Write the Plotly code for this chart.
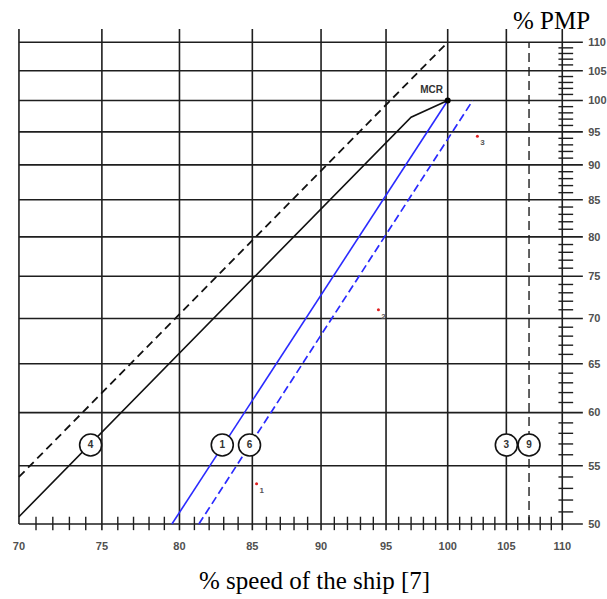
import numpy as np
import plotly.graph_objects as go

# ---------------- data ----------------
speed_ticks = [70, 75, 80, 85, 90, 95, 100, 105, 110]
power_ticks = [50, 55, 60, 65, 70, 75, 80, 85, 90, 95, 100, 105, 110]

engine_x = [70, 97, 100]          # black solid curve
engine_y = [50.6, 97.3, 100]
limit_x = [70, 100]               # black dashed curve
limit_y = [54.0, 110]
prop_x = [79.5, 100]              # blue solid propeller curve
prop_y = [50, 100]
prop_margin_x = [81.3, 102.1]     # blue dashed propeller curve
prop_margin_y = [50, 100]
max_speed_line = 107              # vertical dashed line

mcr_x, mcr_y = [100], [100]

circle_labels = ["4", "1", "6", "3", "9"]
circle_x = [74.3, 82.9, 84.8, 105, 107]
circle_y = [56.9, 56.9, 56.9, 56.9, 56.9]

point_labels = ["1", "2", "3"]
point_x = [85.3, 94.4, 102.5]
point_y = [53.4, 71.0, 94.3]

# ---------------- geometry helpers ----------------
X_MIN, X_MAX = 69.77, 112.1
Y_MIN, Y_MAX = 49.35, 112.6
Y_GRID_TOP = 112.4      # vertical grid lines extend above 110
X_GRID_RIGHT = 111.9    # horizontal grid lines extend past 110
Y_TICK_LO, Y_TICK_HI = 49.5, 50.6
X_TICK_LO, X_TICK_HI = 109.65, 111.0

GRID = "#1e1e1e"
BLUE = "#2a2aff"
LBL = "#505050"

fig = go.Figure()

def seg_trace(xs, ys, color, width, dash="solid"):
    fig.add_trace(go.Scatter(x=xs, y=ys, mode="lines",
                             line=dict(color=color, width=width, dash=dash),
                             hoverinfo="skip", showlegend=False))

# vertical grid lines
vx, vy = [], []
for s in speed_ticks:
    vx += [s, s, None]
    vy += [Y_TICK_LO if s > speed_ticks[0] else power_ticks[0], Y_GRID_TOP, None]
seg_trace(vx, vy, GRID, 1.6)

# horizontal grid lines
hx, hy = [], []
for p in power_ticks:
    hx += [speed_ticks[0], X_GRID_RIGHT, None]
    hy += [p, p, None]
seg_trace(hx, hy, GRID, 1.6)

# minor ticks on bottom axis
mx, my = [], []
for s in range(speed_ticks[0] + 1, speed_ticks[-1]):
    if s % 5:
        mx += [s, s, None]
        my += [Y_TICK_LO, Y_TICK_HI, None]
seg_trace(mx, my, GRID, 1.4)

# minor ticks on right axis
rx, ry = [], []
for p in range(power_ticks[0] + 1, power_ticks[-1]):
    if p % 5:
        rx += [X_TICK_LO, X_TICK_HI, None]
        ry += [p, p, None]
seg_trace(rx, ry, GRID, 1.4)

# dashed vertical line at max speed
seg_trace([max_speed_line, max_speed_line], [power_ticks[0], power_ticks[-1]], GRID, 1.4, "9px,5px")

# curves
seg_trace(limit_x, limit_y, "#111111", 1.8, "8px,5px")
seg_trace(engine_x, engine_y, "#111111", 1.6)
seg_trace(prop_x, prop_y, BLUE, 1.6)
seg_trace(prop_margin_x, prop_margin_y, BLUE, 1.7, "8px,4px")

# MCR point
fig.add_trace(go.Scatter(x=mcr_x, y=mcr_y, mode="markers+text", text=["MCR"],
                         textposition="top left",
                         textfont=dict(family="Liberation Sans", size=10, color="#333", weight="bold"),
                         marker=dict(color="#000", size=6),
                         hoverinfo="skip", showlegend=False))

# numbered circles
fig.add_trace(go.Scatter(x=circle_x, y=circle_y, mode="markers+text", text=circle_labels,
                         textposition="middle center",
                         textfont=dict(family="Liberation Sans", size=10, color="#333", weight="bold"),
                         marker=dict(symbol="circle", size=22, color="white",
                                     line=dict(color="#111", width=1.6)),
                         hoverinfo="skip", showlegend=False))

# red measured points
fig.add_trace(go.Scatter(x=point_x, y=point_y, mode="markers+text", text=point_labels,
                         textposition="bottom right",
                         textfont=dict(family="Liberation Sans", size=8, color="#555", weight="bold"),
                         marker=dict(color="#e02020", size=3),
                         hoverinfo="skip", showlegend=False))

fig.update_layout(
    width=607, height=599,
    template="none",
    paper_bgcolor="white", plot_bgcolor="white",
    margin=dict(l=15, r=22, t=28, b=67),
    xaxis=dict(type="log", range=[np.log10(X_MIN), np.log10(X_MAX)],
               tickvals=speed_ticks, ticktext=[str(s) for s in speed_ticks],
               showgrid=False, zeroline=False, showline=False,
               ticks="outside", ticklen=4, tickcolor="rgba(0,0,0,0)",
               tickfont=dict(family="Liberation Sans", size=11, color=LBL, weight="bold"),
               automargin=False),
    yaxis=dict(type="log", range=[np.log10(Y_MIN), np.log10(Y_MAX)], side="right",
               tickvals=power_ticks, ticktext=[str(p) for p in power_ticks],
               showgrid=False, zeroline=False, showline=False,
               ticks="outside", ticklen=0, tickcolor="rgba(0,0,0,0)",
               tickfont=dict(family="Liberation Sans", size=11, color=LBL, weight="bold"),
               automargin=False),
    annotations=[
        dict(text="% PMP", xref="paper", yref="paper", x=0.942, y=1.014,
             xanchor="center", yanchor="middle", showarrow=False,
             font=dict(family="Liberation Serif", size=25, color="#000")),
        dict(text="% speed of the ship [7]", xref="paper", yref="paper", x=0.525, y=-0.097,
             xanchor="center", yanchor="middle", showarrow=False,
             font=dict(family="Liberation Serif", size=25, color="#000")),
    ],
)

# remove the default page margin so the figure fills the window exactly
fig.write_html("out.html",
               config={"displayModeBar": False},
               post_script="document.body.style.margin='0';document.body.style.overflow='hidden';")
